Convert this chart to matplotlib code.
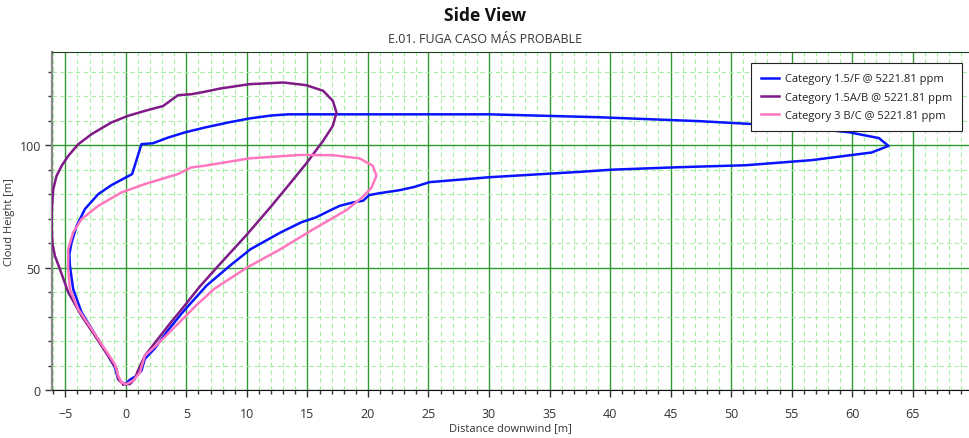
import matplotlib
matplotlib.use("Agg")
import matplotlib.pyplot as plt
from matplotlib.ticker import MultipleLocator

plt.rcParams['font.family'] = ['Open Sans', 'DejaVu Sans']

# Cloud outline (distance downwind [m], height [m]) per stability category
f_x = [0.0, -0.36, -0.63, -0.91, -1.46, -2.56, -3.66, -4.35, -4.62, -4.66, -4.48, -4.07, -3.38,
       -2.28, -1.18, 0.52, 1.29, 2.25, 3.49, 4.87, 6.52, 8.5, 10.2, 12.0, 13.4, 30.0, 39.1, 47.4,
       54.8, 59.7, 62.2, 63.0, 61.6, 60.0, 56.7, 51.2, 45.7, 40.2, 37.5, 30.0, 25.1, 23.8, 22.6,
       20.96, 20.1, 19.6, 18.75, 17.66, 17.1, 15.7, 14.5, 12.8, 10.3, 8.58, 6.66, 4.7, 3.5, 2.39,
       1.57, 1.29, 0.88, 0.33, 0.0]
f_y = [2.5, 3.1, 4.5, 9.3, 14.0, 22.9, 31.7, 41.2, 50.7, 55.5, 60.3, 67.0, 73.9,
       80.0, 83.7, 88.2, 100.4, 100.8, 103.1, 105.2, 107.2, 109.3, 110.9, 112.1, 112.6, 112.6, 111.4, 109.8,
       107.8, 105.3, 102.9, 99.7, 97.0, 96.0, 93.9, 91.8, 91.0, 90.0, 89.1, 86.9, 84.9, 82.9, 81.6,
       80.4, 79.6, 77.3, 76.6, 75.2, 73.9, 70.5, 68.5, 64.4, 57.5, 50.7, 42.6, 31.8, 24.5, 17.0,
       12.7, 7.9, 5.8, 4.2, 2.5]

ab_x = [-0.22, -0.63, -0.77, -1.46, -2.56, -3.66, -4.76, -5.45, -5.86, -6.07, -6.13, -6.1, -6.0,
        -5.72, -5.3, -4.76, -3.93, -2.83, -1.18, 0.19, 1.57, 3.08, 4.3, 5.4, 6.5, 7.76, 10.2,
        13.0, 14.9, 16.3, 17.1, 17.4, 17.1, 16.3, 14.9, 13.5, 12.0, 10.0, 7.6, 6.1, 4.7, 3.7,
        2.67, 1.57, 1.0, 0.74, 0.33, -0.22]
ab_y = [2.4, 4.5, 8.6, 14.0, 22.2, 30.3, 39.9, 49.4, 54.8, 60.0, 67.0, 75.0, 82.0,
        87.5, 91.6, 95.6, 100.4, 104.5, 109.3, 112.0, 114.0, 116.0, 120.4, 120.8, 121.8, 123.1, 124.9,
        125.6, 124.5, 122.2, 118.1, 113.3, 107.9, 101.8, 92.5, 84.0, 75.0, 63.5, 50.5, 42.2, 33.5, 27.5,
        21.0, 14.0, 7.9, 4.5, 2.4, 2.4]

bc_x = [-0.36, -0.63, -0.91, -1.73, -2.83, -3.93, -4.62, -4.76, -4.76, -4.35, -3.66, -2.28,
        -0.36, 1.57, 4.3, 5.4, 6.52, 10.2, 14.36, 17.1, 19.3, 20.4, 20.7, 20.3, 19.6, 18.2,
        15.5, 12.8, 10.0, 7.3, 5.8, 4.4, 2.67, 1.57, 1.16, 0.6, 0.05, -0.36]
bc_y = [3.1, 5.8, 10.6, 16.7, 24.9, 33.0, 41.2, 49.4, 57.6, 64.4, 69.8, 75.2,
        80.7, 84.1, 88.2, 90.9, 91.6, 94.6, 96.0, 95.9, 94.6, 91.6, 87.5, 82.7, 79.0, 73.4,
        65.7, 57.6, 50.0, 41.3, 34.5, 27.5, 19.0, 14.0, 7.2, 3.8, 2.4, 3.1]

labels = ["Category 1.5/F @ 5221.81 ppm",
          "Category 1.5A/B @ 5221.81 ppm",
          "Category 3 B/C @ 5221.81 ppm"]
colors = ["#0a14ff", "#7f1a86", "#ff78bf"]

fig = plt.figure(figsize=(9.7, 4.39), dpi=100)
ax = fig.add_axes([0.0536, 0.1093, 0.946, 0.7697])

for xs, ys, lab, c in zip([f_x, ab_x, bc_x], [f_y, ab_y, bc_y], labels, colors):
    ax.plot(xs, ys, color=c, lw=1.8, label=lab, solid_joinstyle='round', zorder=3)

ax.set_xlim(-6.1, 69.7)
ax.set_ylim(0, 138)
ax.xaxis.set_major_locator(MultipleLocator(5))
ax.xaxis.set_minor_locator(MultipleLocator(1))
ax.yaxis.set_major_locator(MultipleLocator(50))
ax.yaxis.set_minor_locator(MultipleLocator(10))

ax.grid(which='minor', color='#a3eea3', linestyle=(0, (4, 3)), lw=0.8, zorder=0)
ax.grid(which='major', color='#2f9a2f', linestyle='-', lw=1.0, zorder=1)

ax.tick_params(which='major', direction='out', length=5, width=1, labelsize=9,
               colors='#333333')
ax.tick_params(which='minor', direction='out', length=3, width=1, colors='#333333')
ax.tick_params(axis='x', which='major', pad=7)
ax.tick_params(axis='y', which='major', pad=3)
ax.spines['right'].set_visible(False)
ax.spines['left'].set_color('#888888')
ax.spines['left'].set_linewidth(1.6)
ax.spines['bottom'].set_color('#111111')
ax.spines['top'].set_color('#1f3f1f')

ax.set_xlabel("Distance downwind [m]", fontsize=8, color='#333333', labelpad=2)
ax.set_ylabel("Cloud Height [m]", fontsize=8, color='#333333', labelpad=3)

fig.text(0.5, 0.963, "Side View", ha='center', va='center', fontsize=12.5,
         fontweight='bold', color='#111111')
fig.text(0.5, 0.911, "E.01. FUGA CASO MÁS PROBABLE", ha='center', va='center',
         fontsize=9, color='#333333')

leg = ax.legend(loc='upper right', bbox_to_anchor=(0.9975, 0.983), fontsize=8,
                frameon=True, fancybox=False, edgecolor='#222222', framealpha=1,
                handlelength=1.6, handletextpad=0.5, borderpad=0.9, labelspacing=0.65)
leg.get_frame().set_linewidth(0.8)
for t in leg.get_texts():
    t.set_color('#222222')

fig.savefig("out.png", dpi=100)
